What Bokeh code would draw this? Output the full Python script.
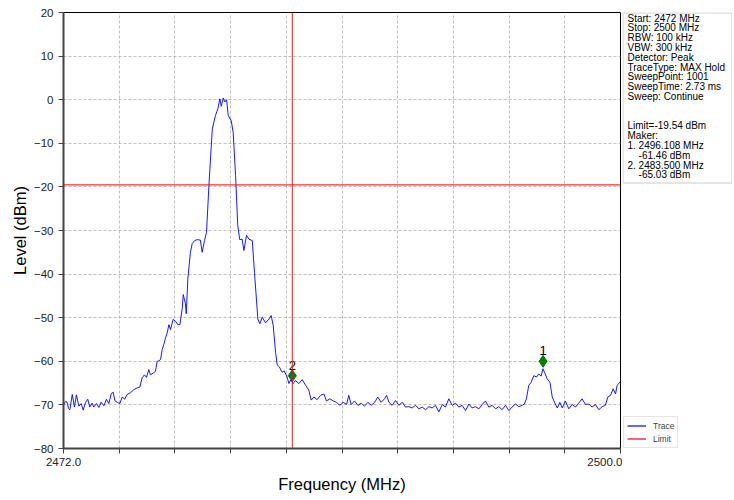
from bokeh.plotting import figure
from bokeh.layouts import row
from bokeh.models import (FixedTicker, Span, Legend, LegendItem, ColumnDataSource)
from bokeh.core.properties import value
from bokeh.embed import file_html
from bokeh.resources import INLINE

FONT = "Liberation Sans"

# ---------------- data ----------------
freq_mhz = [
    2472.00, 2472.10, 2472.18, 2472.25, 2472.32, 2472.44, 2472.55, 2472.65, 2472.77, 2472.89,
    2472.99, 2473.11, 2473.22, 2473.32, 2473.44, 2473.52, 2473.66, 2473.78, 2473.89, 2474.03,
    2474.16, 2474.28, 2474.40, 2474.50, 2474.58, 2474.70, 2474.83, 2474.95, 2475.07, 2475.20,
    2475.37, 2475.54, 2475.70, 2475.84, 2475.95, 2476.07, 2476.17, 2476.29, 2476.37, 2476.51,
    2476.62, 2476.71, 2476.79, 2476.88, 2476.96, 2477.04, 2477.13, 2477.21, 2477.30, 2477.38,
    2477.51, 2477.63, 2477.75, 2477.85, 2477.97, 2478.02, 2478.13, 2478.17, 2478.25, 2478.38,
    2478.47, 2478.60, 2478.72, 2478.88, 2478.97, 2479.09, 2479.19, 2479.31, 2479.48, 2479.64,
    2479.76, 2479.86, 2479.93, 2480.03, 2480.11, 2480.20, 2480.28, 2480.43, 2480.53, 2480.65,
    2480.76, 2480.86, 2480.98, 2481.07, 2481.20, 2481.32, 2481.49, 2481.60, 2481.77, 2481.87,
    2481.99, 2482.16, 2482.33, 2482.44, 2482.54, 2482.66, 2482.74, 2482.85, 2482.99, 2483.10,
    2483.24, 2483.33, 2483.42, 2483.55, 2483.66, 2483.83, 2484.00, 2484.17, 2484.33, 2484.45,
    2484.59, 2484.75, 2484.92, 2485.09, 2485.22, 2485.39, 2485.56, 2485.72, 2485.89, 2486.06,
    2486.23, 2486.34, 2486.46, 2486.63, 2486.80, 2486.97, 2487.13, 2487.30, 2487.47, 2487.64,
    2487.80, 2487.97, 2488.14, 2488.24, 2488.36, 2488.52, 2488.69, 2488.86, 2489.03, 2489.19,
    2489.36, 2489.53, 2489.70, 2489.86, 2490.03, 2490.20, 2490.37, 2490.53, 2490.70, 2490.87,
    2491.04, 2491.20, 2491.37, 2491.54, 2491.71, 2491.87, 2492.04, 2492.21, 2492.38, 2492.54,
    2492.71, 2492.88, 2493.05, 2493.21, 2493.38, 2493.55, 2493.72, 2493.88, 2494.05, 2494.22,
    2494.39, 2494.55, 2494.72, 2494.89, 2495.06, 2495.17, 2495.27, 2495.39, 2495.51, 2495.64,
    2495.78, 2495.89, 2496.01, 2496.10, 2496.18, 2496.31, 2496.45, 2496.57, 2496.68, 2496.82,
    2496.95, 2497.07, 2497.23, 2497.40, 2497.57, 2497.74, 2497.90, 2498.07, 2498.24, 2498.41,
    2498.57, 2498.74, 2498.91, 2499.08, 2499.24, 2499.36, 2499.50, 2499.63, 2499.75, 2499.83,
    2499.92, 2500.00,
]
level_dbm = [
    -70.0, -69.2, -69.4, -70.8, -71.1, -67.6, -70.5, -67.7, -70.3, -69.7,
    -71.2, -69.4, -68.7, -70.5, -69.6, -70.5, -69.7, -70.6, -69.4, -70.2,
    -68.7, -69.7, -67.4, -67.1, -69.0, -69.4, -69.7, -68.2, -68.7, -67.6,
    -67.2, -66.5, -66.1, -65.9, -63.8, -63.1, -63.7, -61.9, -63.1, -62.7,
    -62.3, -60.0, -59.9, -59.6, -57.3, -56.2, -54.6, -53.5, -51.6, -52.7,
    -50.4, -50.8, -51.6, -51.6, -47.8, -44.7, -46.8, -49.1, -41.1, -35.0,
    -33.0, -32.3, -32.1, -32.2, -35.0, -32.3, -30.4, -19.7, -6.7, -3.6,
    -2.1, 0.2, -1.5, 0.4, -0.5, 0.0, -3.6, -4.8, -7.5, -17.4,
    -28.9, -32.1, -32.0, -34.6, -31.1, -32.0, -32.3, -39.6, -50.3, -51.4,
    -49.9, -51.2, -50.3, -49.5, -51.7, -57.9, -60.8, -61.3, -62.5, -62.2,
    -63.6, -65.1, -64.3, -65.1, -64.4, -65.1, -64.2, -65.5, -66.6, -68.9,
    -68.2, -68.8, -67.8, -67.5, -69.1, -68.6, -69.1, -69.4, -70.1, -69.4,
    -69.9, -67.8, -69.9, -69.1, -70.1, -69.6, -70.3, -69.4, -70.1, -69.4,
    -68.2, -69.4, -68.6, -67.8, -69.4, -70.1, -69.0, -70.1, -69.4, -70.5,
    -70.4, -70.7, -70.1, -70.9, -70.5, -71.1, -70.4, -70.7, -70.1, -71.6,
    -69.9, -70.5, -68.6, -70.1, -69.6, -70.5, -70.1, -71.3, -69.8, -70.7,
    -70.4, -70.9, -69.9, -69.1, -70.5, -70.1, -70.9, -70.4, -71.1, -70.1,
    -71.3, -70.5, -69.8, -70.4, -70.1, -69.8, -68.6, -65.5, -64.8, -63.3,
    -63.6, -62.9, -63.4, -61.7, -62.5, -64.0, -64.8, -68.2, -69.4, -70.7,
    -69.4, -70.7, -69.1, -70.9, -69.9, -70.5, -69.6, -68.6, -69.9, -69.8,
    -70.5, -69.9, -71.1, -70.4, -70.1, -68.2, -67.8, -66.3, -67.5, -65.5,
    -65.1, -64.6,
]

limit_dbm = -19.54
limit_freq = [2472.0, 2500.0]

marker_freq = [2496.108, 2483.500]
marker_level = [-60.0, -63.3]
marker_names = ["1", "2"]
vline_freq = 2483.5

x_ticks = [2472.0, 2474.8, 2477.6, 2480.4, 2483.2, 2486.0, 2488.8, 2491.6, 2494.4, 2497.2, 2500.0]
x_tick_labels = ["2472.0", "", "", "", "", "", "", "", "", "", "2500.0"]
y_ticks = [-80, -70, -60, -50, -40, -30, -20, -10, 0, 10, 20]
y_tick_labels = ["\u221280", "\u221270", "\u221260", "\u221250", "\u221240", "\u221230",
                 "\u221220", "\u221210", "0", "10", "20"]

legend_names = ["Trace", "Limit"]
legend_colors = ["#0000ff", "#ff0000"]

info_lines = [
    "Start: 2472 MHz",
    "Stop: 2500 MHz",
    "RBW: 100 kHz",
    "VBW: 300 kHz",
    "Detector: Peak",
    "TraceType: MAX Hold",
    "SweepPoint: 1001",
    "SweepTime: 2.73 ms",
    "Sweep: Continue",
    "",
    "",
    "Limit=-19.54 dBm",
    "Maker:",
    "1. 2496.108 MHz",
    "\u00a0\u00a0\u00a0\u00a0-61.46 dBm",
    "2. 2483.500 MHz",
    "\u00a0\u00a0\u00a0\u00a0-65.03 dBm",
]

# ---------------- main figure ----------------
FRAME_W, FRAME_H = 557, 436
LEFT, TOP, RIGHT = 63, 12, 2
H = 498
BOTTOM = H - TOP - FRAME_H

p = figure(width=LEFT + FRAME_W + RIGHT, height=H, output_backend="svg", toolbar_location=None,
           x_range=(2472.0, 2500.0), y_range=(-80, 20),
           min_border_left=LEFT, min_border_right=RIGHT, min_border_top=TOP,
           min_border_bottom=BOTTOM)
p.background_fill_color = "white"
p.border_fill_color = "white"
p.outline_line_color = "black"
p.outline_line_width = 1

p.xaxis.ticker = FixedTicker(ticks=x_ticks)
p.xaxis.major_label_overrides = {t: l for t, l in zip(x_ticks, x_tick_labels)}
p.yaxis.ticker = FixedTicker(ticks=y_ticks)
p.yaxis.major_label_overrides = {t: l for t, l in zip(y_ticks, y_tick_labels)}
p.xaxis.minor_tick_line_color = None
p.yaxis.minor_tick_line_color = None
for ax in (p.xaxis, p.yaxis):
    ax.axis_line_color = "#444444"
    ax.axis_line_width = 2
    ax.major_tick_line_color = "#444444"
    ax.major_tick_line_width = 1
    ax.major_tick_out = 5
    ax.major_tick_in = 0
    ax.major_label_text_font = FONT
    ax.major_label_text_font_size = "11.5px"
    ax.major_label_text_color = "#222222"
    ax.axis_label_text_font = FONT
    ax.axis_label_text_font_size = "16.5px"
    ax.axis_label_text_font_style = "normal"
    ax.axis_label_text_color = "black"
p.xaxis.axis_label = "Frequency (MHz)"
p.yaxis.axis_label = "Level (dBm)"
p.xaxis.major_label_standoff = 4
p.yaxis.major_label_standoff = 5
p.xaxis.axis_label_standoff = 6
p.yaxis.axis_label_standoff = 2

for g in (p.xgrid, p.ygrid):
    g.grid_line_color = "#b0b0b0"
    g.grid_line_dash = "3 2"
    g.grid_line_width = 0.8

src = ColumnDataSource(dict(f=freq_mhz, L=level_dbm))
p.line("f", "L", source=src, line_color=legend_colors[0], line_width=0.9)
p.line(limit_freq, [limit_dbm] * len(limit_freq), line_color=legend_colors[1], line_width=1)
p.add_layout(Span(location=vline_freq, dimension="height", line_color="#d42020", line_width=1))

msrc = ColumnDataSource(dict(f=marker_freq, L=marker_level, n=marker_names))
p.scatter("f", "L", source=msrc, marker="diamond", size=12, fill_color="#008000",
          line_color="#008000")
p.text("f", "L", text="n", source=msrc, text_align="center", text_baseline="bottom",
       y_offset=-6, text_font=value(FONT), text_font_size="13px", text_color="black")

# ---------------- side panel (info box + legend) ----------------
# the row layout aligns this panel's frame with the main frame, so its y data
# units are set equal to page pixels (top = TOP, bottom = TOP + FRAME_H)
SIDE_W = 110
q = figure(width=SIDE_W, height=H, output_backend="svg", toolbar_location=None,
           x_range=(0, SIDE_W), y_range=(TOP + FRAME_H, TOP),
           x_axis_location=None, y_axis_location=None,
           min_border_left=0, min_border_right=0, min_border_top=TOP,
           min_border_bottom=BOTTOM)
q.grid.visible = False
q.outline_line_color = None
q.background_fill_color = "white"
q.border_fill_color = "white"

LINE_H = 9.8
q.quad(left=[0.5], right=[SIDE_W - 0.5], top=[TOP + 0.5], bottom=[TOP + 170.5],
       fill_color="white", line_color="#cccccc", line_width=1)
info_src = ColumnDataSource(dict(
    x=[5.0] * len(info_lines),
    y=[TOP + 5.5 + LINE_H * i for i in range(len(info_lines))],
    t=info_lines))
q.text("x", "y", text="t", source=info_src, text_align="left", text_baseline="middle",
       text_font=value(FONT), text_font_size="10px", text_color="black")

nan = float("nan")
proxies = [q.line([nan], [nan], line_color=c, line_width=1.2) for c in legend_colors]
legend = Legend(items=[LegendItem(label=n, renderers=[r]) for n, r in zip(legend_names, proxies)],
                location=(1, 0), orientation="vertical",
                label_text_font=FONT, label_text_font_size="8.5px",
                glyph_width=19, glyph_height=11, label_height=11, label_standoff=7,
                spacing=2, padding=3, margin=0,
                border_line_color="#cccccc", border_line_width=1,
                background_fill_color="white", background_fill_alpha=1.0)
q.add_layout(legend, "center")

layout = row(p, q, spacing=0)
open("out.html", "w").write(file_html(layout, INLINE))
